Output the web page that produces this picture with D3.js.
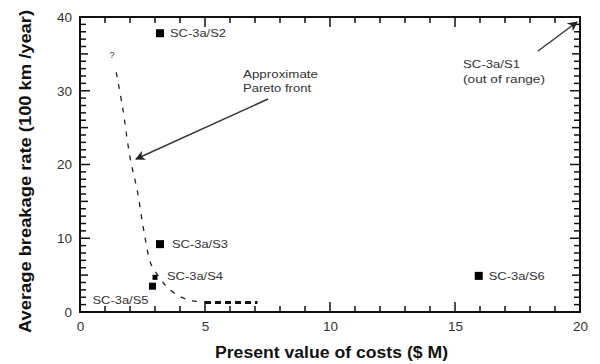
<!DOCTYPE html>
<html><head><meta charset="utf-8">
<script src="https://cdn.jsdelivr.net/npm/d3@7"></script>
<style>body{margin:0;background:#fff}svg{display:block}</style>
</head><body>
<script>
const pointNames = ["SC-3a/S2","SC-3a/S3","SC-3a/S4","SC-3a/S5","SC-3a/S6"];
const pointX = [3.2, 3.2, 3.0, 2.9, 15.95];
const pointY = [37.8, 9.2, 4.7, 3.5, 4.9];
const frontX = [1.45, 1.7, 2.0, 2.3, 2.55, 2.85, 3.2, 3.5, 4.0, 4.5, 5.0];
const frontY = [32.5, 27.8, 21.0, 16.3, 11.1, 6.4, 4.6, 3.3, 2.1, 1.5, 1.4];
const frontTailX = [5.0, 7.1];
const frontTailY = [1.3, 1.3];
const xTicks = [0, 5, 10, 15, 20];
const yTicks = [0, 10, 20, 30, 40];

const W = 600, H = 364;
const margin = {l: 80, r: 20, t: 17, b: 52};
const svg = d3.select("body").append("svg").attr("width", W).attr("height", H);
const xs = d3.scaleLinear().domain([0, 20]).range([margin.l, W - margin.r]);
const ys = d3.scaleLinear().domain([0, 40]).range([H - margin.b, margin.t]);
const font = "Liberation Sans, Arial, sans-serif";

// frame
svg.append("rect").attr("x", xs(0)).attr("y", ys(40)).attr("width", xs(20) - xs(0)).attr("height", ys(0) - ys(40))
  .attr("fill", "none").attr("stroke", "#111").attr("stroke-width", 2);

// inward ticks on all four sides
const xAll = d3.range(0, 21, 1);
const yAll = d3.range(0, 41, 1);
const xLen = v => v % 5 === 0 ? 10 : 6;
const yLen = v => v % 10 === 0 ? 10 : (v % 5 === 0 ? 8 : 6);
const tg = svg.append("g");
tg.selectAll("line.xb").data(xAll).join("line").attr("class", "xb")
  .attr("x1", d => xs(d)).attr("x2", d => xs(d)).attr("y1", ys(0)).attr("y2", d => ys(0) - xLen(d))
  .attr("stroke", "#111").attr("stroke-width", 1.5);
tg.selectAll("line.xt").data(xAll).join("line").attr("class", "xt")
  .attr("x1", d => xs(d)).attr("x2", d => xs(d)).attr("y1", ys(40)).attr("y2", d => ys(40) + xLen(d))
  .attr("stroke", "#111").attr("stroke-width", 1.5);
tg.selectAll("line.yl").data(yAll).join("line").attr("class", "yl")
  .attr("y1", d => ys(d)).attr("y2", d => ys(d)).attr("x1", xs(0)).attr("x2", d => xs(0) + yLen(d))
  .attr("stroke", "#111").attr("stroke-width", 1.5);
tg.selectAll("line.yr").data(yAll).join("line").attr("class", "yr")
  .attr("y1", d => ys(d)).attr("y2", d => ys(d)).attr("x1", xs(20)).attr("x2", d => xs(20) - yLen(d))
  .attr("stroke", "#111").attr("stroke-width", 1.5);

// axes labels via d3
const xAxis = svg.append("g").attr("transform", `translate(0,${ys(0)})`)
  .call(d3.axisBottom(xs).tickValues(xTicks).tickSize(0).tickPadding(9));
const yAxis = svg.append("g").attr("transform", `translate(${xs(0)},0)`)
  .call(d3.axisLeft(ys).tickValues(yTicks).tickSize(0).tickPadding(8));
[xAxis, yAxis].forEach(a => {
  a.select(".domain").remove();
  a.selectAll("text").attr("font-family", font).attr("font-size", 13.5).attr("fill", "#333");
});

// Pareto front
const frontLine = d3.line().x(d => xs(d[0])).y(d => ys(d[1])).curve(d3.curveCatmullRom);
svg.append("path").datum(frontX.map((v, i) => [v, frontY[i]])).attr("d", frontLine)
  .attr("fill", "none").attr("stroke", "#222").attr("stroke-width", 1.3).attr("stroke-dasharray", "5,7");
svg.append("path").datum(frontTailX.map((v, i) => [v, frontTailY[i]])).attr("d", d3.line().x(d => xs(d[0])).y(d => ys(d[1])))
  .attr("fill", "none").attr("stroke", "#111").attr("stroke-width", 3).attr("stroke-dasharray", "6,4");
svg.append("text").attr("x", xs(1.28)).attr("y", ys(35) + 4).attr("text-anchor", "middle")
  .attr("font-family", font).attr("font-size", 9).attr("fill", "#333").text("?");

// points
const sizes = [8, 8, 5, 7, 8];
svg.append("g").selectAll("rect").data(pointNames).join("rect")
  .attr("x", (d, i) => xs(pointX[i]) - sizes[i] / 2).attr("y", (d, i) => ys(pointY[i]) - sizes[i] / 2)
  .attr("width", (d, i) => sizes[i]).attr("height", (d, i) => sizes[i]).attr("fill", "#000");

// point labels
const lblDx = [10, 12, 12, -60, 10];
const lblDy = [0, 0, -1, 14, 0];
svg.append("g").selectAll("text").data(pointNames).join("text")
  .attr("x", (d, i) => xs(pointX[i]) + lblDx[i]).attr("y", (d, i) => ys(pointY[i]) + lblDy[i] + 4)
  .attr("font-family", font).attr("font-size", 11.5).attr("fill", "#333")
  .attr("textLength", 56).attr("lengthAdjust", "spacingAndGlyphs").text(d => d);

// annotations
const ann = svg.append("g").attr("font-family", font).attr("font-size", 11.5).attr("fill", "#333");
ann.append("text").attr("x", 243).attr("y", 78).attr("textLength", 75).attr("lengthAdjust", "spacingAndGlyphs").text("Approximate");
ann.append("text").attr("x", 243).attr("y", 92).attr("textLength", 68).attr("lengthAdjust", "spacingAndGlyphs").text("Pareto front");
ann.append("text").attr("x", 463).attr("y", 68).attr("textLength", 57).attr("lengthAdjust", "spacingAndGlyphs").text("SC-3a/S1");
ann.append("text").attr("x", 463).attr("y", 83).attr("textLength", 82).attr("lengthAdjust", "spacingAndGlyphs").text("(out of range)");

svg.append("defs").append("marker").attr("id", "ah").attr("viewBox", "0 0 10 10").attr("refX", 9).attr("refY", 5)
  .attr("markerWidth", 10).attr("markerHeight", 10).attr("orient", "auto").attr("markerUnits", "userSpaceOnUse")
  .append("path").attr("d", "M0,0 L10,5 L0,10 L3,5 Z").attr("fill", "#222");
svg.append("line").attr("x1", 268).attr("y1", 99).attr("x2", 136).attr("y2", 159)
  .attr("stroke", "#333").attr("stroke-width", 1.4).attr("marker-end", "url(#ah)");
svg.append("line").attr("x1", 538).attr("y1", 51).attr("x2", 577).attr("y2", 22)
  .attr("stroke", "#333").attr("stroke-width", 1.4).attr("marker-end", "url(#ah)");

// axis titles
svg.append("text").attr("x", 215).attr("y", 358)
  .attr("font-family", font).attr("font-size", 16).attr("font-weight", "bold").attr("fill", "#111")
  .attr("textLength", 233).attr("lengthAdjust", "spacingAndGlyphs")
  .text("Present value of costs ($ M)");
svg.append("text").attr("transform", `translate(31,333) rotate(-90)`)
  .attr("font-family", font).attr("font-size", 16).attr("font-weight", "bold").attr("fill", "#111")
  .attr("textLength", 323).attr("lengthAdjust", "spacingAndGlyphs")
  .text("Average breakage rate (100 km /year)");
</script>
</body></html>
